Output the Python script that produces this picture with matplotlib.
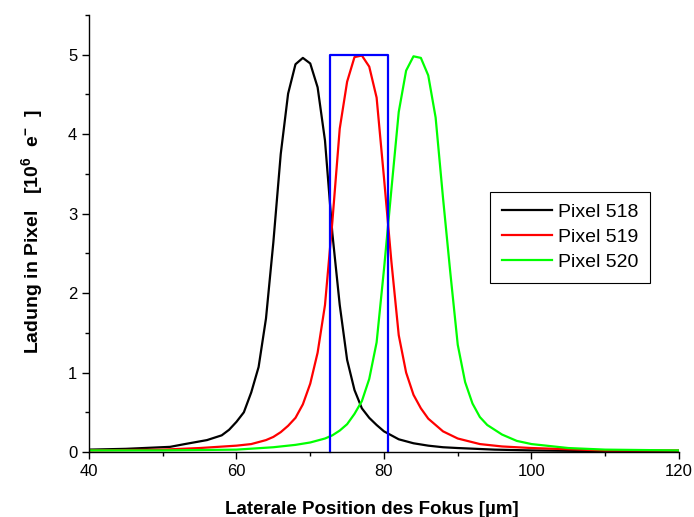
"""Charge per pixel versus lateral focus position for three neighbouring pixels."""

import matplotlib

matplotlib.use("Agg")
import matplotlib.pyplot as plt
from matplotlib.ticker import MultipleLocator

# Pixel 518
x_518 = [40, 45, 51, 53, 56, 58, 59, 60, 61, 62, 63, 64, 65, 66, 67, 68, 69, 70, 71, 72,
         73, 74, 75, 76, 77, 78, 79, 80, 82, 84, 86, 88, 90, 95, 100, 110, 120]
y_518 = [0.03, 0.04, 0.065, 0.1, 0.15, 0.21, 0.28, 0.38, 0.5, 0.75, 1.07, 1.68, 2.64, 3.75,
         4.51, 4.88, 4.96, 4.89, 4.59, 3.92, 2.75, 1.85, 1.16, 0.78, 0.55, 0.43, 0.34, 0.26,
         0.16, 0.11, 0.08, 0.06, 0.05, 0.03, 0.02, 0.01, 0.01]

# Pixel 519
x_519 = [40, 50, 55, 60, 62, 64, 65, 66, 67, 68, 69, 70, 71, 72, 73, 74, 75, 76, 77, 78,
         79, 80, 81, 82, 83, 84, 85, 86, 88, 90, 93, 96, 100, 110, 120]
y_519 = [0.02, 0.03, 0.05, 0.08, 0.1, 0.15, 0.19, 0.25, 0.33, 0.43, 0.6, 0.86, 1.25, 1.85,
         2.9, 4.07, 4.66, 4.97, 4.99, 4.85, 4.46, 3.45, 2.4, 1.47, 1.0, 0.72, 0.55, 0.42,
         0.26, 0.17, 0.1, 0.07, 0.05, 0.02, 0.02]

# Pixel 520
x_520 = [40, 50, 60, 65, 68, 70, 72, 73, 74, 75, 76, 77, 78, 79, 80, 81, 82, 83, 84, 85,
         86, 87, 88, 89, 90, 91, 92, 93, 94, 96, 98, 100, 105, 110, 120]
y_520 = [0.02, 0.02, 0.03, 0.06, 0.09, 0.12, 0.17, 0.21, 0.27, 0.35, 0.48, 0.64, 0.92,
         1.38, 2.3, 3.3, 4.28, 4.8, 4.98, 4.96, 4.74, 4.21, 3.2, 2.25, 1.35, 0.88, 0.61,
         0.44, 0.34, 0.22, 0.14, 0.1, 0.05, 0.03, 0.02]

# pixel 519 aperture window
window_x = [72.7, 72.7, 80.5, 80.5]
window_y = [0.0, 5.0, 5.0, 0.0]

plt.rcParams.update(
    {
        "font.family": ["Liberation Sans", "DejaVu Sans"],
        "mathtext.fontset": "custom",
        "mathtext.rm": "Liberation Sans:bold",
        "mathtext.bf": "Liberation Sans:bold",
        "mathtext.default": "bf",
    }
)

fig = plt.figure(figsize=(6.94, 5.17), dpi=100)
ax = fig.add_axes([0.1282, 0.1257, 0.8502, 0.8453])

ax.plot(x_518, y_518, color="black", linewidth=1.6, label="Pixel 518")
ax.plot(x_519, y_519, color="#ff0000", linewidth=1.6, label="Pixel 519")
ax.plot(x_520, y_520, color="#00ff00", linewidth=1.6, label="Pixel 520")
ax.plot(window_x, window_y, color="#0000ff", linewidth=1.6, clip_on=False)

ax.set_xlim(40, 120)
ax.set_ylim(0, 5.5)
ax.xaxis.set_major_locator(MultipleLocator(20))
ax.xaxis.set_minor_locator(MultipleLocator(10))
ax.yaxis.set_major_locator(MultipleLocator(1))
ax.yaxis.set_minor_locator(MultipleLocator(0.5))
ax.tick_params(which="major", direction="out", length=5, width=1, labelsize=12)
ax.tick_params(which="minor", direction="out", length=3, width=1)

for side in ("top", "right"):
    ax.spines[side].set_visible(False)
for side in ("left", "bottom"):
    ax.spines[side].set_linewidth(1)

ax.set_xlabel("Laterale Position des Fokus [µm]", fontsize=13.5, fontweight="bold")
ax.set_ylabel(r"Ladung in Pixel   [10$^{6}$  e$^{-}$  ]", fontsize=14, fontweight="bold")
ax.xaxis.set_label_coords(0.479, -0.112)
ax.yaxis.set_label_coords(-0.075, 0.505)

leg = ax.legend(
    loc="upper left",
    bbox_to_anchor=(0.68, 0.595),
    borderaxespad=0,
    fontsize=14,
    fancybox=False,
    framealpha=1,
    edgecolor="black",
    handlelength=2.6,
    handletextpad=0.3,
    borderpad=0.6,
    labelspacing=0.38,
)
leg.get_frame().set_linewidth(0.8)

fig.savefig("out.png", dpi=100)
